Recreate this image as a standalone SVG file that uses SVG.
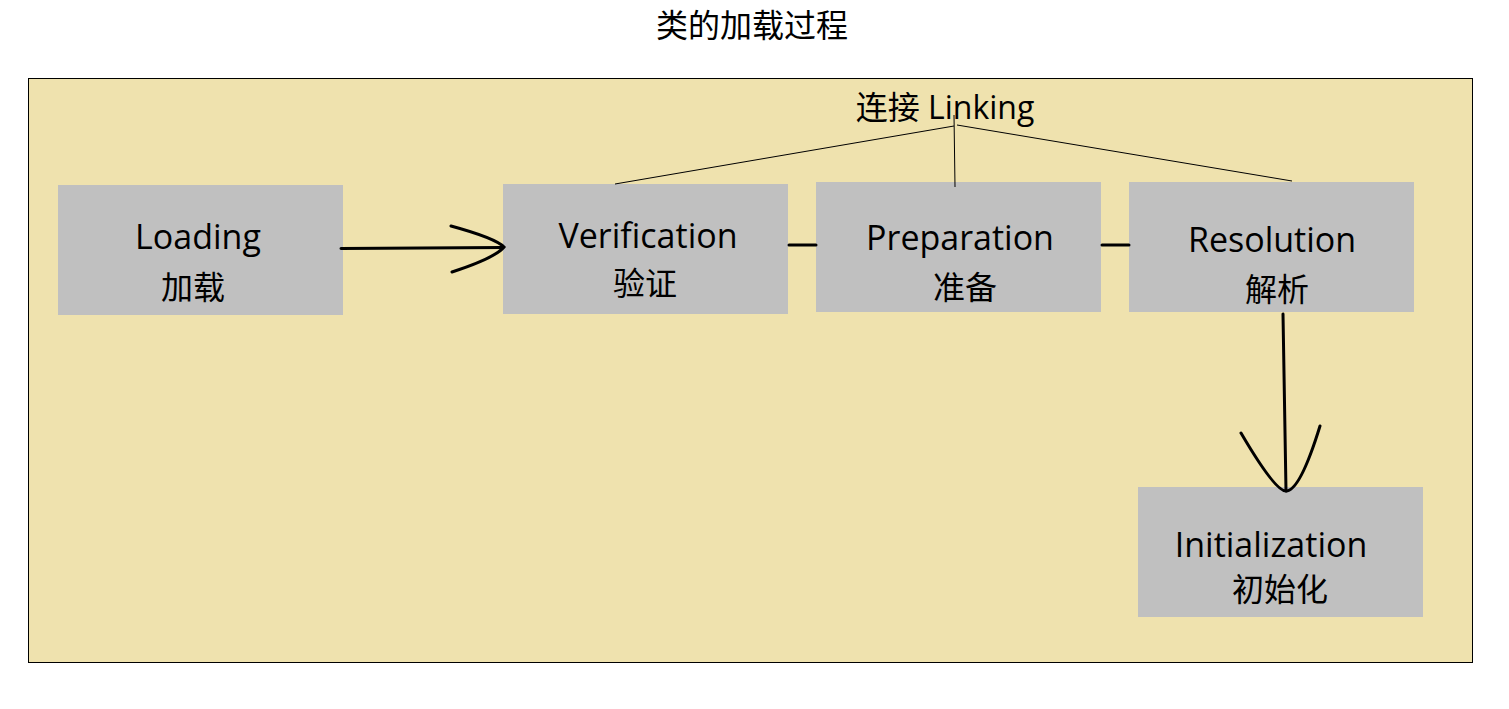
<svg xmlns="http://www.w3.org/2000/svg" width="1509" height="709" viewBox="0 0 1509 709">
<style>
.box{fill:#c0c0c0;}
.t{font-family:"Open Sans","Noto Sans CJK SC",sans-serif;font-size:34px;fill:#000;text-anchor:middle;}
.c{font-family:"Noto Sans CJK SC",sans-serif;font-size:32px;fill:#000;text-anchor:middle;}
.thin{stroke:#000;stroke-width:1;fill:none;}
.thick{stroke:#000;stroke-width:3;fill:none;stroke-linecap:round;}
</style>
<rect width="1509" height="709" fill="#fff"/>
<text class="c" x="752" y="37">类的加载过程</text>
<rect x="28.5" y="78.5" width="1444" height="584" fill="#efe2ae" stroke="#000" stroke-width="1"/>
<g id="linking-label"><text class="t" x="945" y="119" style="font-size:32px">连接 Linking</text></g>
<g id="loading"><rect class="box" x="58" y="185" width="285" height="130"/><text class="t" x="198" y="249">Loading</text><text class="c" x="193" y="299">加载</text></g>
<g id="verification"><rect class="box" x="503" y="184" width="285" height="130"/><text class="t" x="648" y="248">Verification</text><text class="c" x="645" y="295">验证</text></g>
<g id="preparation"><rect class="box" x="816" y="182" width="285" height="130"/><text class="t" x="960" y="250">Preparation</text><text class="c" x="965" y="299">准备</text></g>
<g id="resolution"><rect class="box" x="1129" y="182" width="285" height="130"/><text class="t" x="1272" y="252">Resolution</text><text class="c" x="1277" y="301">解析</text></g>
<g id="initialization"><rect class="box" x="1138" y="487" width="285" height="130"/><text class="t" x="1271" y="557">Initialization</text><text class="c" x="1280" y="601">初始化</text></g>
<g id="connectors">
<path class="thin" d="M615,184 L954,126 M957,125 L1292,181 M954,115 L955,187"/>
<path class="thick" d="M341,248.5 L503,247.5"/>
<path class="thick" d="M451,226 Q495,238 504,247 Q495,258 452,272"/>
<path class="thick" d="M789,245 L816,245 M1102,245 L1129,245"/>
<path class="thick" d="M1283,314 L1286,491"/>
<path class="thick" d="M1241,433 Q1275,491 1286,491 Q1300,491 1320,426"/>
</g>
</svg>
